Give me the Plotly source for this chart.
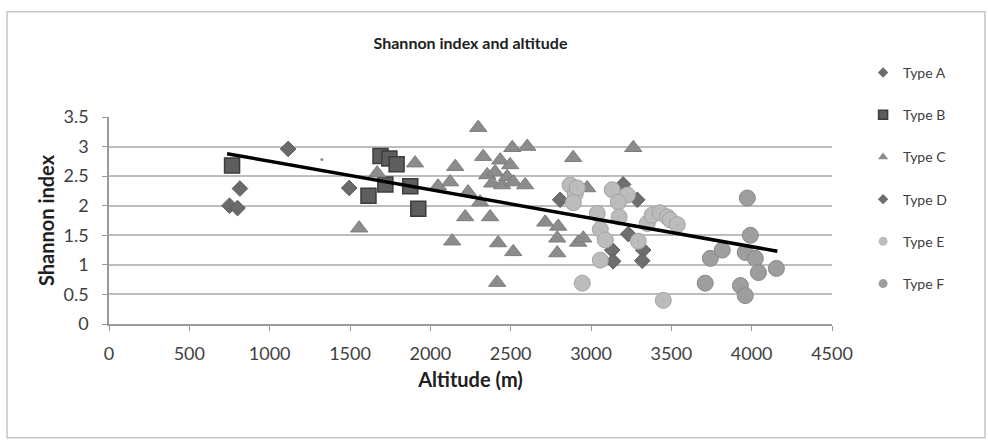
import plotly.graph_objects as go

# Altitude (m) and Shannon diversity index for each sampled site, by type
type_a_x = [750, 800, 815, 1115, 1495]
type_a_y = [2.0, 1.96, 2.29, 2.96, 2.3]

stray_x = [1325]
stray_y = [2.78]

type_b_x = [766, 1690, 1745, 1790, 1720, 1615, 1875, 1925]
type_b_y = [2.68, 2.84, 2.8, 2.7, 2.36, 2.17, 2.33, 1.95]

type_c_x = [1557, 1669, 1905, 2048, 2123, 2155, 2235, 2217, 2298, 2310,
            2329, 2354, 2385, 2403, 2435, 2447, 2478, 2497, 2510, 2516,
            2590, 2603, 2372, 2136, 2422, 2516, 2416, 2715, 2796, 2790,
            2790, 2889, 2920, 2976, 2952, 3263]
type_c_y = [1.62, 2.55, 2.72, 2.33, 2.4, 2.66, 2.23, 1.81, 3.32, 2.06,
            2.83, 2.52, 2.38, 2.57, 2.77, 2.35, 2.49, 2.69, 2.98, 2.4,
            2.35, 3.0, 1.81, 1.4, 1.37, 1.22, 0.7, 1.72, 1.65, 1.45,
            1.2, 2.81, 1.38, 2.3, 1.45, 2.98]

type_d_x = [2808, 3200, 3288, 3232, 3132, 3138, 3325, 3319]
type_d_y = [2.1, 2.36, 2.1, 1.52, 1.25, 1.06, 1.25, 1.07]

type_e_x = [2870, 2902, 2914, 2890, 2946, 3039, 3058, 3089, 3058, 3132,
            3226, 3170, 3175, 3294, 3350, 3381, 3431, 3475, 3494, 3537, 3450]
type_e_y = [2.35, 2.2, 2.3, 2.05, 0.69, 1.87, 1.6, 1.42, 1.08, 2.27,
            2.18, 2.06, 1.81, 1.4, 1.7, 1.84, 1.88, 1.81, 1.76, 1.68, 0.4]

type_f_x = [3711, 3743, 3817, 3930, 3960, 3960, 3973, 3992, 4023, 4042, 4154]
type_f_y = [0.69, 1.11, 1.25, 0.65, 1.21, 0.48, 2.13, 1.5, 1.11, 0.87, 0.94]

# Linear trend across all sites
trend_x = [735, 4160]
trend_y = [2.88, 1.23]

x_ticks = [0, 500, 1000, 1500, 2000, 2500, 3000, 3500, 4000, 4500]
y_ticks = [0, 0.5, 1, 1.5, 2, 2.5, 3, 3.5]

FONT = "Lato"
TEXT = "#404040"

fig = go.Figure()

# name, x, y, symbol, size, fill, edge, edge width, legend symbol, legend size
series = [
    ("Type A", type_a_x, type_a_y, "diamond", 12, "#6a6a6a", "#5a5a5a", 1, "diamond", 8),
    ("Type B", type_b_x, type_b_y, "square", 15, "#5e5e5e", "#3c3c3c", 1.5, "square", 9),
    ("Type C", type_c_x, type_c_y, "triangle-up", 15, "#8c8c8c", "#7c7c7c", 1, "triangle-up", 9),
    ("Type D", type_d_x, type_d_y, "diamond", 12, "#6e6e6e", "#5e5e5e", 1, "diamond", 8),
    ("Type E", type_e_x, type_e_y, "circle-dot", 16, "#bcbcbc", "#a4a4a4", 1, "circle", 9),
    ("Type F", type_f_x, type_f_y, "circle-dot", 16, "#9e9e9e", "#888888", 1, "circle", 9),
]

for name, xs, ys, sym, size, fill, edge, lw, lsym, lsize in series:
    fig.add_trace(go.Scatter(
        x=xs, y=ys, mode="markers", name=name, legendgroup=name, showlegend=False,
        marker=dict(symbol=sym, size=size, color=fill,
                    line=dict(color=edge, width=lw)),
    ))
    # compact legend key for the series
    fig.add_trace(go.Scatter(
        x=[None], y=[None], mode="markers", name=name, legendgroup=name,
        marker=dict(symbol=lsym, size=lsize, color=fill,
                    line=dict(color=edge if name == "Type B" else fill, width=lw if name == "Type B" else 0)),
    ))

fig.add_trace(go.Scatter(
    x=stray_x, y=stray_y, mode="markers", showlegend=False,
    marker=dict(symbol="circle", size=3, color="#8a8a8a"),
))

fig.add_trace(go.Scatter(
    x=trend_x, y=trend_y, mode="lines", showlegend=False,
    line=dict(color="#000000", width=3.5),
))

# light frame around the whole chart area (paper units relative to plot area)
fig.add_shape(type="rect", xref="paper", yref="paper",
              x0=-0.141, x1=1.2116, y0=-0.55, y1=1.508,
              line=dict(color="#c4c4c4", width=1.5), fillcolor="rgba(0,0,0,0)",
              layer="below")

fig.update_layout(
    width=988, height=440,
    margin=dict(l=109, r=156, t=117, b=116),
    paper_bgcolor="white", plot_bgcolor="white",
    font=dict(family=FONT, color=TEXT),
    title=dict(text="<b>Shannon index and altitude</b>", x=0.5, xref="paper",
               y=1 - 43 / 440, yref="container", xanchor="center", yanchor="middle",
               font=dict(size=16, color="#202020", family=FONT)),
    showlegend=True,
    legend=dict(x=1.043, xanchor="left", y=1.29, yanchor="top",
                font=dict(size=14, color=TEXT, family=FONT),
                tracegroupgap=21, itemsizing="trace", maxheight=440,
                bgcolor="rgba(0,0,0,0)"),
    xaxis=dict(range=[0, 4500], tickvals=x_ticks, ticktext=[str(v) for v in x_ticks],
               showgrid=False, zeroline=False, showline=True, linecolor="#9a9a9a", linewidth=1.5,
               ticks="outside", ticklen=5, tickcolor="#9a9a9a", tickwidth=1,
               tickfont=dict(size=18, color=TEXT), ticklabelstandoff=8,
               title=dict(text="<b>Altitude (m)</b>", font=dict(size=20, color="#202020"), standoff=10)),
    yaxis=dict(range=[0, 3.5], tickvals=y_ticks, ticktext=["0", "0.5", "1", "1.5", "2", "2.5", "3", "3.5"],
               showgrid=True, gridcolor="#bdbdbd", gridwidth=1.5, zeroline=False,
               showline=True, linecolor="#9a9a9a", linewidth=1.5,
               ticks="outside", ticklen=5, tickcolor="#9a9a9a", tickwidth=1,
               tickfont=dict(size=18, color=TEXT), ticklabelstandoff=10,
               title=dict(text="<b>Shannon index</b>", font=dict(size=20, color="#202020"), standoff=4)),
)

fig.write_html("out.html")
